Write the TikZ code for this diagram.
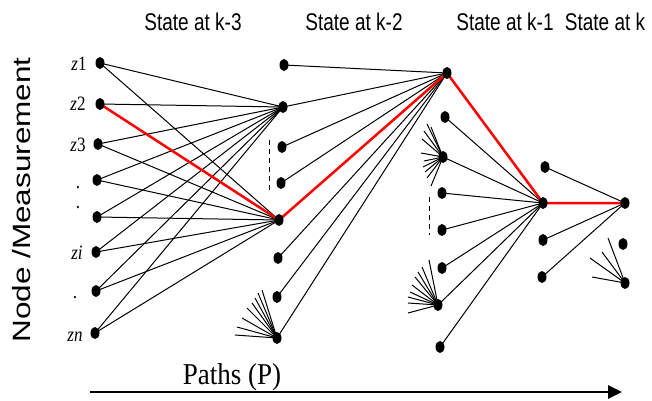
\documentclass[tikz,border=0pt]{standalone}
\usepackage{fontspec}
\setmainfont{Liberation Serif}
\newfontfamily\arialf{Liberation Sans}
\usetikzlibrary{shapes.geometric,arrows.meta}
\begin{document}
\begin{tikzpicture}[x=1pt,y=-1pt,
  dot/.style={ellipse,fill=black,inner sep=0pt,minimum width=9pt,minimum height=12pt},
  edge/.style={black,line width=1pt},
  best/.style={red,line width=2.5pt},
  fan/.style={black,line width=1pt},
  dashline/.style={black,line width=1pt,dash pattern=on 5pt off 4pt},
  ttl/.style={anchor=base,inner sep=0pt,font=\arialf\fontsize{19}{19}\selectfont},
  zl/.style={anchor=base,inner sep=0pt,font=\fontsize{17}{17}\selectfont}]
\useasboundingbox (0,0) rectangle (652,400);

% titles
\node[ttl] (t1) at (193,30) {\scalebox{1}[1.27]{State at k-3}};
\node[ttl] (t2) at (354,30) {\scalebox{1}[1.27]{State at k-2}};
\node[ttl] (t3) at (505,30) {\scalebox{1}[1.27]{State at k-1}};
\node[ttl] (t4) at (605,30) {\scalebox{1}[1.27]{State at k}};

% vertical label
\node[anchor=base,rotate=90,inner sep=0pt,font=\arialf\fontsize{25}{25}\selectfont] (yl) at (30,200) {\scalebox{1.26}[1]{Node /Measurement}};

% node coordinates
\foreach \n/\x/\y in {a1/100/63,a2/100/104,a3/98/144,a4/97/180,a5/97/217,a6/96/252,a7/96/291,a8/95/333,
  b1/284/65,b2/283/107,b3/282/147,b4/281/183,b5/279/220,b6/278/258,b7/277/297,b8/277/338,
  c1/447/73,c2/445/117,c3/443/157,c4/442/193,c5/442/230,c6/442/268,c7/438/305,c8/440/347,
  d1/545/167,d2/543/203,d3/543/240,d4/542/277,
  e1/625/203,e2/623/244,e3/625/283}
  \coordinate (\n) at (\x,\y);

% edges col1 -> b2, b5
\foreach \i in {1,...,8} \draw[edge] (a\i) -- (b2);
\foreach \i in {1,3,4,5,6,7,8} \draw[edge] (a\i) -- (b5);
% col2 -> c1
\foreach \i in {1,2,3,4,6,7,8} \draw[edge] (b\i) -- (c1);
% col3 -> d2
\foreach \i in {2,...,8} \draw[edge] (c\i) -- (d2);
% col4 -> e1
\foreach \i in {1,3,4} \draw[edge] (d\i) -- (e1);

% fans
\foreach \k/\x/\y in {1/235/335,2/237/327,3/242/318,4/247/308,5/252/303,6/255/298,7/258/293,8/262/290}
  {\coordinate (fb\k) at (\x,\y); \draw[fan] (b8) -- (fb\k);}
\foreach \k/\x/\y in {1/427/124,2/424/131,3/422/139,4/431/127,5/421/153,6/424/161,7/423/167,8/425/172,9/427/178,10/431/186}
  {\coordinate (fc\k) at (\x,\y); \draw[fan] (c3) -- (fc\k);}
\foreach \k/\x/\y in {1/429/260,2/422/267,3/418/272,4/415/277,5/412/285,6/410/292,7/408/297,8/408/303,9/408/313}
  {\coordinate (fd\k) at (\x,\y); \draw[fan] (c7) -- (fd\k);}
\foreach \k/\x/\y in {1/592/277,2/590/258,3/602/252,4/608/238}
  {\coordinate (fe\k) at (\x,\y); \draw[fan] (e3) -- (fe\k);}

% dashed markers
\coordinate (ds1) at (269,140); \coordinate (de1) at (269,190);
\coordinate (ds2) at (429,197); \coordinate (de2) at (429,235);
\draw[dashline] (ds1) -- (de1);
\draw[dashline] (ds2) -- (de2);

% best path
\draw[best,line join=round] (a2) -- (b5) -- (c1) -- (d2) -- (e1);

% dots
\foreach \n in {a1,a2,a3,a4,a5,a6,a7,a8,b1,b2,b3,b4,b5,b6,b7,b8,c1,c2,c3,c4,c5,c6,c7,c8,d1,d2,d3,d4,e1,e2,e3}
  \node[dot] (n\n) at (\n) {};

% z labels
\node[zl] (l1) at (79,70) {\scalebox{1}[1.2]{\textit{z}1}};
\node[zl] (l2) at (78,110) {\scalebox{1}[1.2]{\textit{z}2}};
\node[zl] (l3) at (78,151) {\scalebox{1}[1.2]{\textit{z}3}};
\node[zl] (l4) at (78,188) {\scalebox{1}[1.2]{.}};
\node[zl] (l5) at (78,208) {\scalebox{1}[1.2]{.}};
\node[zl] (l6) at (77,259) {\scalebox{1}[1.2]{\textit{zi}}};
\node[zl] (l7) at (75,298) {\scalebox{1}[1.2]{.}};
\node[zl] (l8) at (75,341) {\scalebox{1}[1.2]{\textit{zn}}};

% paths arrow
\node[anchor=base,inner sep=0pt,font=\fontsize{27}{27}\selectfont] (pl) at (232,384) {\scalebox{1}[1.12]{Paths (P)}};
\coordinate (as) at (90,392);
\coordinate (ae) at (622,392);
\draw[line width=2.7pt,-{Triangle[length=14pt,width=13pt]}] (as) -- (ae);
\end{tikzpicture}
\end{document}
